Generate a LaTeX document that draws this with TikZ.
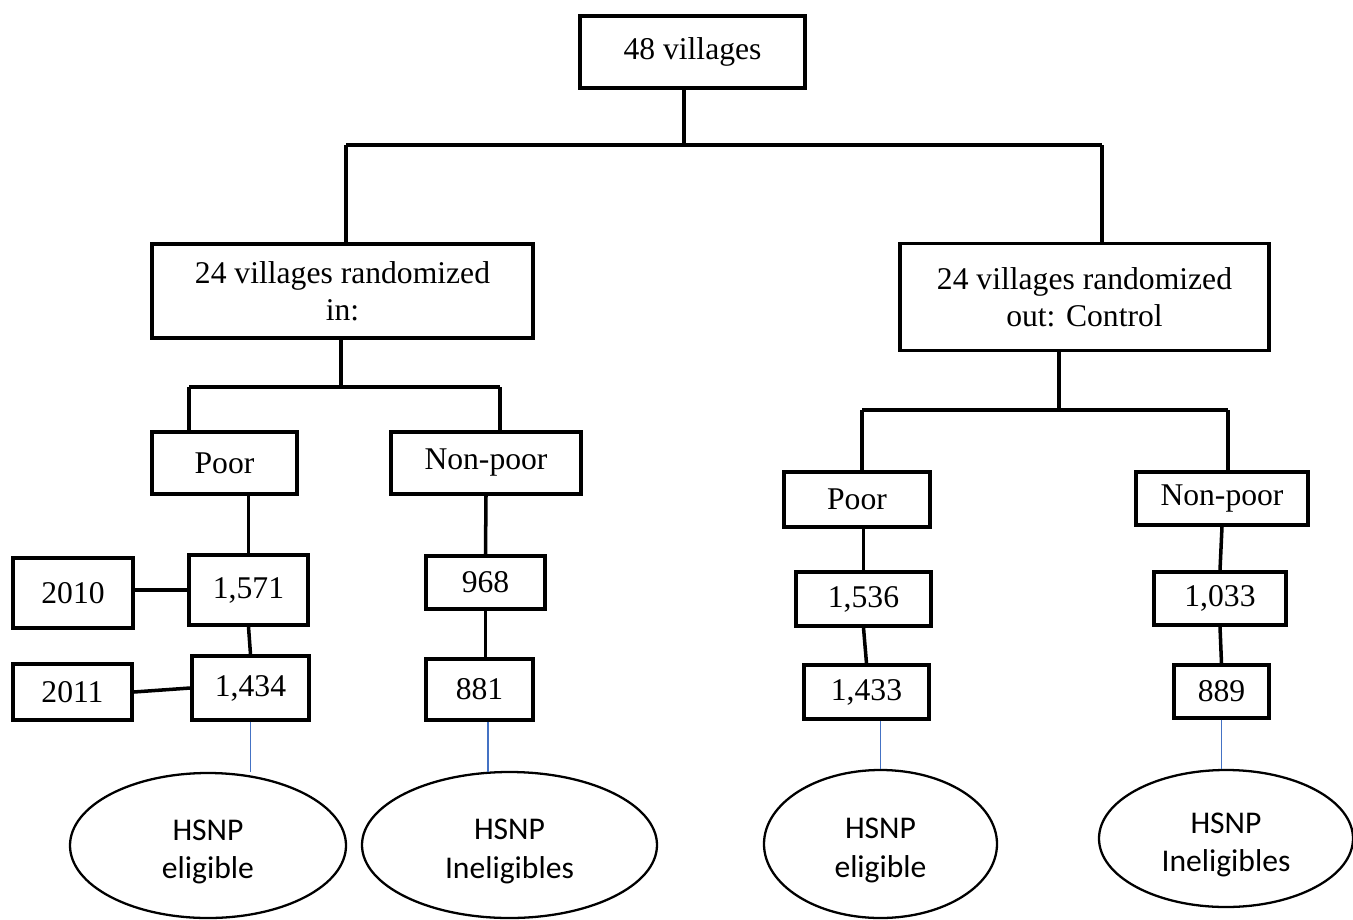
\documentclass[tikz,border=0pt]{standalone}
\usepackage{fontspec}
\setmainfont{Liberation Serif}
\newfontfamily\carl{Carlito}
\usetikzlibrary{shapes.geometric}
\definecolor{linkblue}{HTML}{4472C4}
\tikzset{
  bx/.style 2 args={draw, line width=2pt, rectangle, inner sep=0pt, align=center,
    minimum width=#1*0.02cm, minimum height=#2*0.02cm, font=\fontsize{18}{21}\selectfont},
  ov/.style 2 args={draw, line width=1.3pt, ellipse, inner sep=0pt,
    minimum width=#1*0.02cm, minimum height=#2*0.02cm},
  ovtext/.style={label={[font=\carl\fontsize{18}{22}\selectfont, align=center, yshift=-0.13cm]center:#1}},
  ln/.style={line width=2pt},
  bl/.style={draw=linkblue, line width=0.6pt}
}
\begin{document}
\begin{tikzpicture}[x=0.02cm,y=-0.02cm]
\useasboundingbox (0,0) rectangle (1353,920);
% boxes
\node[bx={225}{72}] (top) at (692.5,52) {48 villages};
\node[bx={381}{94}] (inL) at (342.5,291) {24 villages randomized\\in:};
\node[bx={369}{107}] (outR) at (1084.5,297) {24 villages randomized\\out: Control};
\node[bx={145}{62}] (poorL) at (224.5,463) {Poor};
\node[bx={190}{62}] (npL) at (486,463) {Non-poor};
\node[bx={119}{70}] (n1571) at (248.5,590) {1,571};
\node[bx={120}{70}] (y2010) at (73,593) {2010};
\node[bx={117}{64}] (n1434) at (250.5,688) {1,434};
\node[bx={119}{56}] (y2011) at (72.5,692) {2011};
\node[bx={119}{53}] (n968) at (485.5,582.5) {968};
\node[bx={107}{61}] (n881) at (479.5,689.5) {881};
\node[bx={146}{55}] (poorR) at (857,499.5) {Poor};
\node[bx={172}{53}] (npR) at (1222,498.5) {Non-poor};
\node[bx={135}{54}] (n1536) at (863.5,599) {1,536};
\node[bx={125}{54}] (n1433) at (866.5,692) {1,433};
\node[bx={132}{53}] (n1033) at (1220,598.5) {1,033};
\node[bx={95}{53}] (n889) at (1221.5,691.5) {889};
% ellipses
\node[ov={276}{145}, ovtext={HSNP\\eligible}] (e1) at (208,845.5) {};
\node[ov={295}{146}, ovtext={HSNP\\Ineligibles}] (e2) at (509.5,845) {};
\node[ov={233}{148}, ovtext={HSNP\\eligible}] (e3) at (880.5,844) {};
\node[ov={254}{137}, ovtext={HSNP\\Ineligibles}] (e4) at (1226,838.5) {};
% junction coordinates
\coordinate (bL) at (346,145);
\coordinate (bR) at (1102,145);
\coordinate (sT) at (684,145);
\coordinate (cL1) at (189,387);
\coordinate (cL2) at (500,387);
\coordinate (sL) at (341,387);
\coordinate (cR1) at (862,410);
\coordinate (cR2) at (1228,410);
\coordinate (sR) at (1059,410);
\coordinate (s2010) at (189,590);
\coordinate (b881) at (488,772);
% connectors top
\draw[ln] (top.south -| sT) -- (sT);
\draw[line width=2.6pt] (bL) -- (bR);
\draw[ln] (bL) -- (bL |- inL.north);
\draw[ln] (bR) -- (bR |- outR.north);
% left branch
\draw[ln] (inL.south -| sL) -- (sL);
\draw[ln] (cL1) -- (cL2);
\draw[ln] (cL1) -- (cL1 |- poorL.north);
\draw[ln] (cL2) -- (cL2 |- npL.north);
\draw[ln] (poorL.south -| n1571.north) -- (n1571.north);
\draw[ln] (n1571.south) -- (n1434.north);
\draw[ln] (y2010.east |- s2010) -- (n1571.west);
\draw[ln] (y2011.east) -- (n1434.west);
\draw[ln] (npL.south) -- (n968.north);
\draw[ln] (n968.south) -- (n968.south |- n881.north);
% right branch
\draw[ln] (outR.south -| sR) -- (sR);
\draw[ln] (cR1) -- (cR2);
\draw[ln] (cR1) -- (cR1 |- poorR.north);
\draw[ln] (cR2) -- (cR2 |- npR.north);
\draw[ln] (n1536.north |- poorR.south) -- (n1536.north);
\draw[ln] (n1536.south) -- (n1433.north);
\draw[ln] (npR.south) -- (n1033.north);
\draw[ln] (n1033.south) -- (n889.north);
% blue links to ellipses
\draw[bl] (n1434.south) -- (n1434.south |- e1.north);
\draw[bl] (n881.south -| b881) -- (b881);
\draw[bl] (n1433.south -| e3.north) -- (e3.north);
\draw[bl] (n889.south) -- (n889.south |- e4.north);
\end{tikzpicture}
\end{document}
